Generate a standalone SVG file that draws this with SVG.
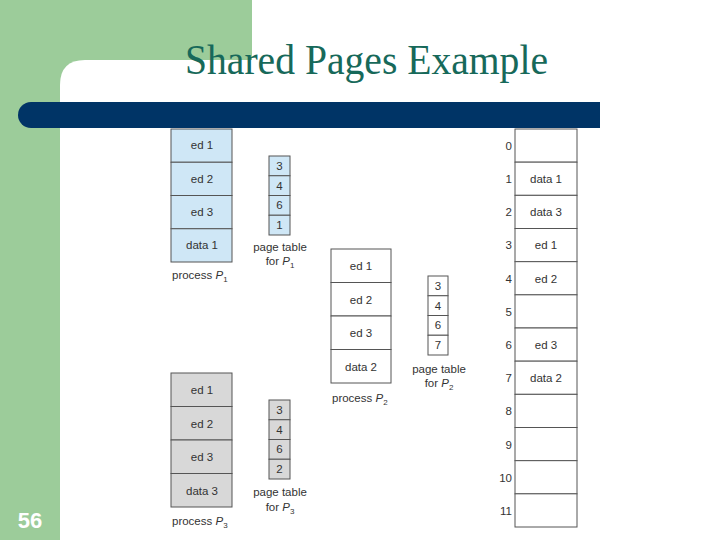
<svg xmlns="http://www.w3.org/2000/svg" width="720" height="540" viewBox="0 0 720 540">
<style>
.t{font-family:"Liberation Sans",Arial,sans-serif;font-size:11.5px;fill:#333;text-anchor:middle}
.l{font-family:"Liberation Sans",Arial,sans-serif;font-size:11.5px;fill:#333}
.n{font-family:"Liberation Sans",Arial,sans-serif;font-size:11.5px;fill:#333;text-anchor:end}
.b{fill:#cfe7f6;stroke:#555;stroke-width:1}
.w{fill:#fff;stroke:#555;stroke-width:1}
.g{fill:#d8d8d8;stroke:#555;stroke-width:1}
.s{font-size:8px}
</style>
<rect x="0" y="0" width="720" height="540" fill="#fff"/>
<g id="background">
<rect x="0" y="0" width="252" height="85" fill="#9ccc9a"/>
<rect x="0" y="0" width="60" height="540" fill="#9ccc9a"/>
<path d="M60 540 V85 Q60 60 85 60 H252 V540 Z" fill="#fff"/>
<path d="M31 102 H600 V128 H31 A13 13 0 0 1 31 102 Z" fill="#003466"/>
<text x="185" y="74" font-family="'Liberation Serif','Times New Roman',serif" font-size="42" fill="#17695a" textLength="363" lengthAdjust="spacingAndGlyphs">Shared Pages Example</text>
<text x="30" y="528" font-family="'Liberation Sans',Arial,sans-serif" font-size="22" font-weight="bold" fill="#fff" text-anchor="middle">56</text>
</g>
<g id="process-p1">
<rect class="b" x="171" y="129" width="61" height="33.25"/>
<rect class="b" x="171" y="162.25" width="61" height="33.25"/>
<rect class="b" x="171" y="195.5" width="61" height="33.25"/>
<rect class="b" x="171" y="228.75" width="61" height="33.25"/>
<text class="t" x="202" y="149">ed 1</text>
<text class="t" x="202" y="183">ed 2</text>
<text class="t" x="202" y="216">ed 3</text>
<text class="t" x="202" y="249">data 1</text>
<text class="l" x="172" y="279">process <tspan font-style="italic">P</tspan><tspan class="s" dy="3">1</tspan></text>
</g>
<g id="page-table-p1">
<rect class="b" x="269" y="156" width="21" height="19.75"/>
<rect class="b" x="269" y="175.75" width="21" height="19.75"/>
<rect class="b" x="269" y="195.5" width="21" height="19.75"/>
<rect class="b" x="269" y="215.25" width="21" height="19.75"/>
<text class="t" x="279.5" y="170">3</text>
<text class="t" x="279.5" y="189.5">4</text>
<text class="t" x="279.5" y="209">6</text>
<text class="t" x="279.5" y="229">1</text>
<text class="t" x="280" y="251">page table</text>
<text class="t" x="280" y="265">for <tspan font-style="italic">P</tspan><tspan class="s" dy="3">1</tspan></text>
</g>
<g id="process-p2">
<rect class="w" x="331" y="249" width="60" height="33.5"/>
<rect class="w" x="331" y="282.5" width="60" height="33.5"/>
<rect class="w" x="331" y="316" width="60" height="33.5"/>
<rect class="w" x="331" y="349.5" width="60" height="33.5"/>
<text class="t" x="361" y="270">ed 1</text>
<text class="t" x="361" y="304">ed 2</text>
<text class="t" x="361" y="337">ed 3</text>
<text class="t" x="361" y="371">data 2</text>
<text class="l" x="332" y="402">process <tspan font-style="italic">P</tspan><tspan class="s" dy="3">2</tspan></text>
</g>
<g id="page-table-p2">
<rect class="w" x="428" y="276" width="20" height="19.75"/>
<rect class="w" x="428" y="295.75" width="20" height="19.75"/>
<rect class="w" x="428" y="315.5" width="20" height="19.75"/>
<rect class="w" x="428" y="335.25" width="20" height="19.75"/>
<text class="t" x="438" y="290">3</text>
<text class="t" x="438" y="309.5">4</text>
<text class="t" x="438" y="329">6</text>
<text class="t" x="438" y="349">7</text>
<text class="t" x="439" y="373">page table</text>
<text class="t" x="439" y="387">for <tspan font-style="italic">P</tspan><tspan class="s" dy="3">2</tspan></text>
</g>
<g id="process-p3">
<rect class="g" x="171" y="373" width="61" height="33.5"/>
<rect class="g" x="171" y="406.5" width="61" height="33.5"/>
<rect class="g" x="171" y="440" width="61" height="33.5"/>
<rect class="g" x="171" y="473.5" width="61" height="33.5"/>
<text class="t" x="202" y="394">ed 1</text>
<text class="t" x="202" y="428">ed 2</text>
<text class="t" x="202" y="461">ed 3</text>
<text class="t" x="202" y="495">data 3</text>
<text class="l" x="172" y="525">process <tspan font-style="italic">P</tspan><tspan class="s" dy="3">3</tspan></text>
</g>
<g id="page-table-p3">
<rect class="g" x="269" y="400" width="21" height="19.75"/>
<rect class="g" x="269" y="419.75" width="21" height="19.75"/>
<rect class="g" x="269" y="439.5" width="21" height="19.75"/>
<rect class="g" x="269" y="459.25" width="21" height="19.75"/>
<text class="t" x="279.5" y="414">3</text>
<text class="t" x="279.5" y="433.5">4</text>
<text class="t" x="279.5" y="453">6</text>
<text class="t" x="279.5" y="473">2</text>
<text class="t" x="280" y="496">page table</text>
<text class="t" x="280" y="511">for <tspan font-style="italic">P</tspan><tspan class="s" dy="3">3</tspan></text>
</g>
<g id="physical-memory">
<rect class="w" x="515" y="129" width="62" height="33.17"/>
<rect class="w" x="515" y="162.17" width="62" height="33.17"/>
<rect class="w" x="515" y="195.33" width="62" height="33.17"/>
<rect class="w" x="515" y="228.5" width="62" height="33.17"/>
<rect class="w" x="515" y="261.67" width="62" height="33.17"/>
<rect class="w" x="515" y="294.83" width="62" height="33.17"/>
<rect class="w" x="515" y="328" width="62" height="33.17"/>
<rect class="w" x="515" y="361.17" width="62" height="33.17"/>
<rect class="w" x="515" y="394.33" width="62" height="33.17"/>
<rect class="w" x="515" y="427.5" width="62" height="33.17"/>
<rect class="w" x="515" y="460.67" width="62" height="33.17"/>
<rect class="w" x="515" y="493.83" width="62" height="33.17"/>
<text class="n" x="512" y="150">0</text>
<text class="n" x="512" y="183">1</text>
<text class="n" x="512" y="216">2</text>
<text class="n" x="512" y="249">3</text>
<text class="n" x="512" y="283">4</text>
<text class="n" x="512" y="316">5</text>
<text class="n" x="512" y="349">6</text>
<text class="n" x="512" y="382">7</text>
<text class="n" x="512" y="415">8</text>
<text class="n" x="512" y="449">9</text>
<text class="n" x="512" y="482">10</text>
<text class="n" x="512" y="515">11</text>
<text class="t" x="546" y="183">data 1</text>
<text class="t" x="546" y="216">data 3</text>
<text class="t" x="546" y="249">ed 1</text>
<text class="t" x="546" y="283">ed 2</text>
<text class="t" x="546" y="349">ed 3</text>
<text class="t" x="546" y="382">data 2</text>
</g>
<g id="connectors"/>
</svg>
